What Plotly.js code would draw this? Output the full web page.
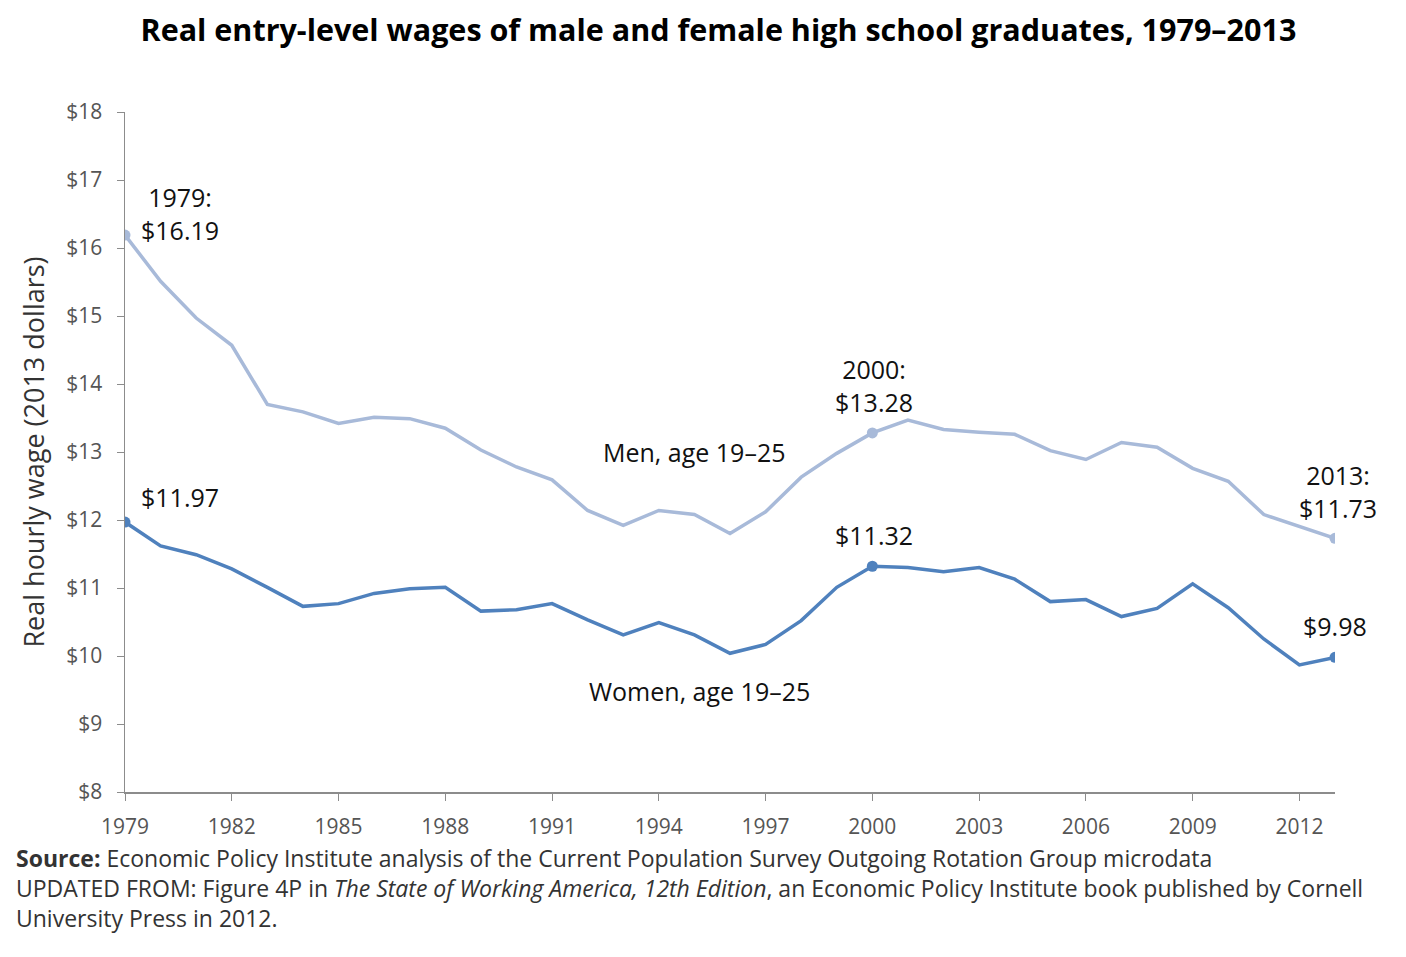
<!DOCTYPE html>
<html>
<head>
<meta charset="utf-8">
<script src="https://cdn.plot.ly/plotly-3.0.1.min.js"></script>
<style>html,body{margin:0;padding:0;background:#fff;}#chart{width:1406px;height:957px;}</style>
</head>
<body>
<div id="chart"></div>
<script>
const years = [1979,1980,1981,1982,1983,1984,1985,1986,1987,1988,1989,1990,1991,1992,1993,1994,1995,1996,1997,1998,1999,2000,2001,2002,2003,2004,2005,2006,2007,2008,2009,2010,2011,2012,2013];
const men = [16.19,15.51,14.97,14.57,13.70,13.59,13.42,13.51,13.49,13.35,13.03,12.78,12.59,12.14,11.92,12.14,12.08,11.80,12.12,12.63,12.98,13.28,13.47,13.33,13.29,13.26,13.02,12.89,13.14,13.07,12.76,12.57,12.08,11.91,11.73];
const women = [11.97,11.62,11.49,11.28,11.01,10.73,10.77,10.92,10.99,11.01,10.66,10.68,10.77,10.53,10.31,10.49,10.31,10.04,10.17,10.52,11.01,11.32,11.30,11.24,11.30,11.13,10.80,10.83,10.58,10.70,11.06,10.71,10.25,9.87,9.98];
const highlightYears = [1979, 2000, 2013];
const tickYears = [1979,1982,1985,1988,1991,1994,1997,2000,2003,2006,2009,2012];
const yTicks = [8,9,10,11,12,13,14,15,16,17,18];
const yTickLabels = yTicks.map(v => '$' + v);

const menColor = '#a8bad9';
const womenColor = '#4f81bd';
const fontFam = '"Open Sans", "Noto Sans", sans-serif';

function pick(arr){ return highlightYears.map(y => arr[years.indexOf(y)]); }
const menH = pick(men), womenH = pick(women);

const traces = [
  {x: years, y: men, mode: 'lines', line: {color: menColor, width: 3.5}, hoverinfo: 'x+y'},
  {x: years, y: women, mode: 'lines', line: {color: womenColor, width: 3.5}, hoverinfo: 'x+y'},
  {x: highlightYears, y: menH, mode: 'markers', marker: {color: menColor, size: 11}},
  {x: highlightYears, y: womenH, mode: 'markers', marker: {color: womenColor, size: 11}}
];

const f = (v) => '$' + v.toFixed(2);
const annFont = {family: fontFam, size: 25, color: '#111'};
const srcFont = {family: fontFam, size: 23, color: '#333'};
const ann = [
  {x: highlightYears[0], y: menH[0], text: highlightYears[0] + ':<br>' + f(menH[0]), xshift: 55, yshift: 22, showarrow: false, font: annFont, align: 'center'},
  {x: highlightYears[0], y: womenH[0], text: f(womenH[0]), xshift: 55, yshift: 25, showarrow: false, font: annFont},
  {x: highlightYears[1], y: menH[1], text: highlightYears[1] + ':<br>' + f(menH[1]), xshift: 2, yshift: 47, showarrow: false, font: annFont, align: 'center'},
  {x: highlightYears[1], y: womenH[1], text: f(womenH[1]), xshift: 2, yshift: 31, showarrow: false, font: annFont},
  {x: highlightYears[2], y: menH[2], text: highlightYears[2] + ':<br>' + f(menH[2]), xshift: 3, yshift: 47, showarrow: false, font: annFont, align: 'center'},
  {x: highlightYears[2], y: womenH[2], text: f(womenH[2]), xshift: 0, yshift: 31, showarrow: false, font: annFont},
  {x: 1995.0, y: 13.0, text: 'Men, age 19–25', showarrow: false, font: annFont},
  {x: 1995.15, y: 9.48, text: 'Women, age 19–25', showarrow: false, font: annFont},
  {xref: 'paper', yref: 'paper', x: -0.0917, y: -0.097, xanchor: 'left', yanchor: 'middle', showarrow: false, font: srcFont,
   text: '<b>Source:</b> Economic Policy Institute analysis of the Current Population Survey Outgoing Rotation Group microdata'},
  {xref: 'paper', yref: 'paper', x: -0.0917, y: -0.141, xanchor: 'left', yanchor: 'middle', showarrow: false, font: srcFont,
   text: 'UPDATED FROM: Figure 4P in <i>The State of Working America, 12th Edition</i>, an Economic Policy Institute book published by Cornell'},
  {xref: 'paper', yref: 'paper', x: -0.0917, y: -0.185, xanchor: 'left', yanchor: 'middle', showarrow: false, font: srcFont,
   text: 'University Press in 2012.'}
];

const layout = {
  width: 1406, height: 957,
  margin: {l: 125, r: 71, t: 112, b: 165, pad: 0},
  paper_bgcolor: '#fff', plot_bgcolor: '#fff',
  showlegend: false,
  title: {text: '<b>Real entry-level wages of male and female high school graduates, 1979–2013</b>', x: 0.511, xanchor: 'center', y: 0.968, yanchor: 'middle',
          font: {family: fontFam, size: 30.5, color: '#000'}},
  xaxis: {range: [1979, 2013], tickvals: tickYears, ticktext: tickYears.map(String), showgrid: false, zeroline: false,
          showline: true, linecolor: '#8c8c8c', linewidth: 1.5, ticks: 'outside', ticklen: 7, tickcolor: '#8c8c8c', ticklabelstandoff: 8,
          tickfont: {family: fontFam, size: 21, color: '#555'}, fixedrange: true},
  yaxis: {range: [8, 18], tickvals: yTicks, ticktext: yTickLabels, showgrid: false, zeroline: false,
          showline: true, linecolor: '#8c8c8c', linewidth: 1.5, ticks: 'outside', ticklen: 7, tickcolor: '#8c8c8c', ticklabelstandoff: 10,
          tickfont: {family: fontFam, size: 21, color: '#555'},
          title: {text: 'Real hourly wage (2013 dollars)', font: {family: fontFam, size: 27, color: '#333'}, standoff: 14}, fixedrange: true},
  annotations: ann
};

Plotly.newPlot('chart', traces, layout, {displayModeBar: false, staticPlot: true});
</script>
</body>
</html>
